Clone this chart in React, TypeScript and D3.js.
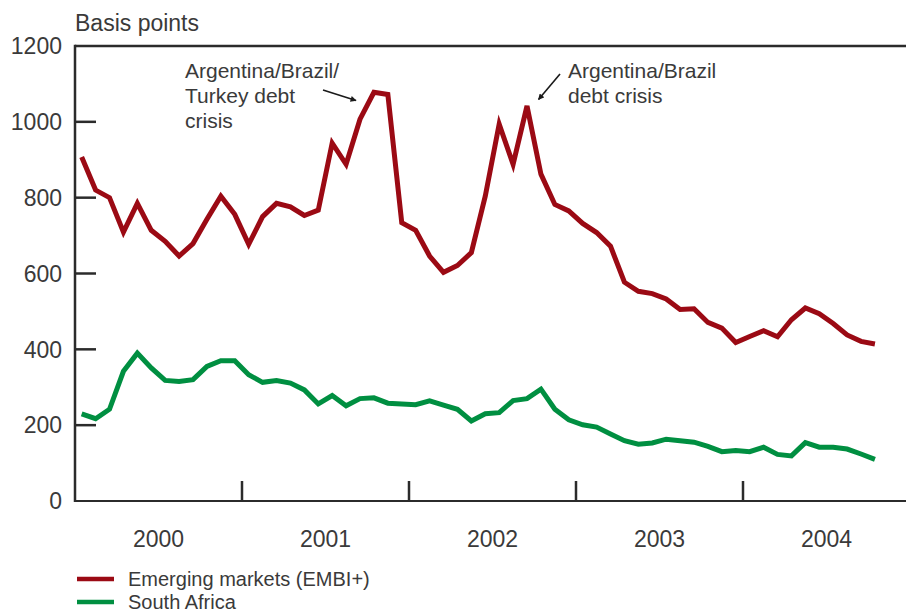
import React from "react";
import * as d3 from "d3";

const emergingMarkets: number[] = [
  907, 820, 800, 709, 785, 714, 685, 646, 679, 743,
  804, 756, 677, 750, 785, 776, 753, 767, 944, 888,
  1007, 1078, 1072, 734, 714, 646, 603, 621, 655, 804,
  994, 888, 1042, 862, 782, 765, 732, 708, 672, 577,
  553, 547, 533, 505, 507, 471, 456, 418, 434, 449,
  433, 478, 509, 494, 468, 438, 421, 414,
];

const southAfrica: number[] = [
  230, 217, 242, 342, 390, 351, 318, 315, 320, 355,
  370, 370, 333, 313, 318, 311, 293, 256, 278, 251,
  270, 272, 258, 256, 254, 264, 253, 242, 211, 230,
  233, 265, 270, 295, 242, 214, 201, 195, 177, 159,
  150, 153, 163, 159, 155, 144, 130, 133, 130, 142,
  123, 119, 154, 142, 142, 137, 124, 110,
];

const years: string[] = ["2000", "2001", "2002", "2003", "2004"];
const yTicks: number[] = [0, 200, 400, 600, 800, 1000, 1200];
const seriesNames: string[] = ["Emerging markets (EMBI+)", "South Africa"];

const W = 906;
const H = 615;
const RED = "#9b0a14";
const GREEN = "#008f41";
const INK = "#2b2b2b";
const TEXT = "#3a3a3a";
const FONT = "'Liberation Sans', Arial, Helvetica, sans-serif";

export default function App() {
  const x = d3.scaleLinear().domain([0, 60]).range([75, 910]);
  const y = d3.scaleLinear().domain([0, 1200]).range([501, 46]);
  const xi = (i: number) => x(i + 0.48);

  const line = d3
    .line<number>()
    .x((_, i) => xi(i))
    .y((d) => y(d));

  const x0 = x(0);
  const yBase = y(0);
  const yTop = y(1200);

  return (
    <svg
      width={W}
      height={H}
      viewBox={`0 0 ${W} ${H}`}
      style={{ position: "absolute", left: 0, top: 0, background: "#fff" }}
      fontFamily={FONT}
    >
      <defs>
        <marker
          id="arrow"
          viewBox="0 0 10 10"
          refX="9"
          refY="5"
          markerWidth="7"
          markerHeight="6"
          markerUnits="userSpaceOnUse"
          orient="auto"
        >
          <path d="M0,0 L10,5 L0,10 z" fill="#1a1a1a" />
        </marker>
      </defs>

      {/* Unit label */}
      <text x={75} y={31} fontSize={23} fill={TEXT}>
        Basis points
      </text>

      {/* Y ticks and labels */}
      {yTicks.map((t) => (
        <g key={t}>
          {t !== 0 && t !== 1200 && (
            <line x1={x0} x2={x0 + 21} y1={y(t)} y2={y(t)} stroke={INK} strokeWidth={2.5} />
          )}
          <text x={62} y={y(t)} dy="0.36em" textAnchor="end" fontSize={23} fill={TEXT}>
            {t}
          </text>
        </g>
      ))}

      {/* Frame: top and left axis, bottom axis */}
      <line x1={x0} x2={W} y1={yTop} y2={yTop} stroke={INK} strokeWidth={2.5} />
      <line x1={x0} x2={x0} y1={yTop - 1.25} y2={yBase + 1} stroke={INK} strokeWidth={2.5} />
      <line x1={x0} x2={W} y1={yBase} y2={yBase} stroke={INK} strokeWidth={2.2} />

      {/* Year separators and labels */}
      {years.map((yr, k) => (
        <g key={yr}>
          {k > 0 && (
            <line
              x1={x(k * 12)}
              x2={x(k * 12)}
              y1={yBase - 20}
              y2={yBase}
              stroke={INK}
              strokeWidth={2.5}
            />
          )}
          <text x={x(k * 12 + 6)} y={547} textAnchor="middle" fontSize={23} fill={TEXT}>
            {yr}
          </text>
        </g>
      ))}

      {/* Series */}
      <path
        d={line(southAfrica) || ""}
        fill="none"
        stroke={GREEN}
        strokeWidth={5}
        strokeLinejoin="miter"
      />
      <path
        d={line(emergingMarkets) || ""}
        fill="none"
        stroke={RED}
        strokeWidth={5}
        strokeLinejoin="miter"
      />

      {/* Annotations */}
      <text x={185} y={78} fontSize={21} fill={TEXT}>
        <tspan x={185}>Argentina/Brazil/</tspan>
        <tspan x={185} dy={25}>Turkey debt</tspan>
        <tspan x={185} dy={25}>crisis</tspan>
      </text>
      <line x1={323} y1={90} x2={356} y2={100.5} stroke="#1a1a1a" strokeWidth={1.6} markerEnd="url(#arrow)" />

      <text x={568} y={78} fontSize={21} fill={TEXT}>
        <tspan x={568}>Argentina/Brazil</tspan>
        <tspan x={568} dy={25}>debt crisis</tspan>
      </text>
      <line x1={560} y1={74} x2={538.5} y2={99.5} stroke="#1a1a1a" strokeWidth={1.6} markerEnd="url(#arrow)" />

      {/* Legend */}
      {seriesNames.map((name, k) => (
        <g key={name}>
          <line
            x1={77}
            x2={114}
            y1={579 + k * 23}
            y2={579 + k * 23}
            stroke={k === 0 ? RED : GREEN}
            strokeWidth={4.5}
          />
          <text x={128} y={586 + k * 23} fontSize={20} fill={TEXT}>
            {name}
          </text>
        </g>
      ))}
    </svg>
  );
}
